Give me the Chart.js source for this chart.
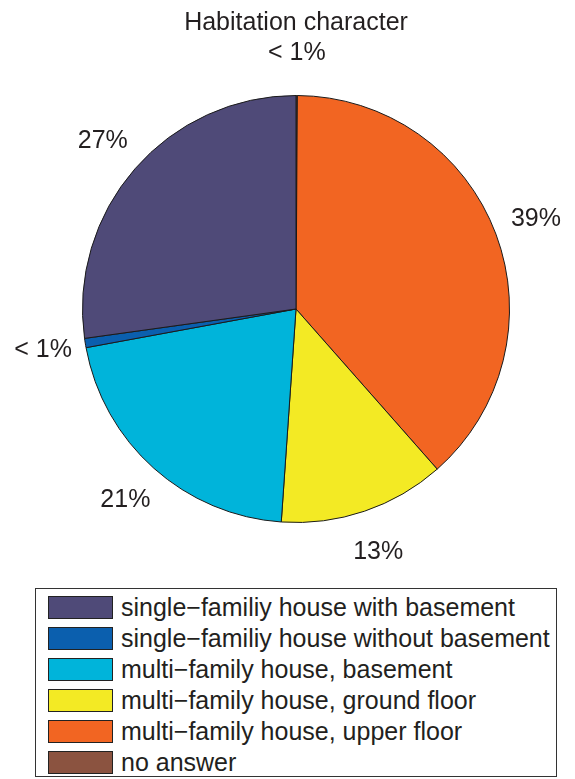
<!DOCTYPE html>
<html lang="en">
<head>
  <meta charset="UTF-8">
  <title>Habitation character</title>
  <script src="https://cdn.jsdelivr.net/npm/chart.js"></script>
  <style>
    body { margin: 0; background: #fff; font-family: "Liberation Sans", Arial, sans-serif; color: #231f20; }
    #wrap { position: relative; width: 575px; height: 779px; }
    #chartBox { position: absolute; left: 0; top: 0; width: 575px; height: 580px; }
    #legend {
      position: absolute; left: 35px; top: 588px; width: 522px; height: 189px;
      border: 1px solid #333; box-sizing: border-box; padding: 3px 0 0 12px;
    }
    .row { display: flex; align-items: center; height: 31px; font-size: 25px; white-space: nowrap; }
    .sw { width: 65px; height: 23px; border: 1px solid #222; margin-right: 8px; box-sizing: border-box; flex: none; }
  </style>
</head>
<body>
<div id="wrap">
  <div id="chartBox"><canvas id="pie"></canvas></div>
  <div id="legend"></div>
</div>

<script>
// data, in legend order (MATLAB draws counterclockwise from the top)
const categories = [
  'single\u2212familiy house with basement',
  'single\u2212familiy house without basement',
  'multi\u2212family house, basement',
  'multi\u2212family house, ground floor',
  'multi\u2212family house, upper floor',
  'no answer'
];
const shares = [27.2, 0.7, 21.0, 12.6, 38.4, 0.1];
const pctLabels = ['27%', '< 1%', '21%', '13%', '39%', '< 1%'];
const colors = ['#4f4a78', '#0b5fae', '#00b4da', '#f3ea24', '#f26522', '#8b5340'];

// chart.js goes clockwise, so feed it reversed
const rev = a => a.slice().reverse();

const labelPlugin = {
  id: 'pieText',
  afterDraw(chart) {
    const ctx = chart.ctx;
    ctx.save();
    ctx.fillStyle = '#231f20';
    ctx.textAlign = 'center';
    ctx.textBaseline = 'middle';
    ctx.font = '25px "Liberation Sans", Arial, sans-serif';
    ctx.fillText('Habitation character', 296, 23);
    const txt = rev(pctLabels);
    chart.getDatasetMeta(0).data.forEach((arc, i) => {
      const mid = (arc.startAngle + arc.endAngle) / 2;
      const r = arc.outerRadius * 1.2;
      ctx.fillText(txt[i], arc.x + Math.cos(mid) * r, arc.y + Math.sin(mid) * r);
    });
    ctx.restore();
  }
};

new Chart(document.getElementById('pie'), {
  type: 'pie',
  data: {
    labels: rev(categories),
    datasets: [{
      data: rev(shares),
      backgroundColor: rev(colors),
      borderColor: '#1a1a1a',
      borderWidth: 1,
      hoverOffset: 0
    }]
  },
  options: {
    responsive: true,
    maintainAspectRatio: false,
    animation: false,
    layout: { padding: { left: 82, right: 65, top: 95, bottom: 57 } },
    plugins: { legend: { display: false }, tooltip: { enabled: false } }
  },
  plugins: [labelPlugin]
});

// legend box
const leg = document.getElementById('legend');
categories.forEach((c, i) => {
  const row = document.createElement('div');
  row.className = 'row';
  row.innerHTML = `<div class="sw" style="background:${colors[i]}"></div><span>${c}</span>`;
  leg.appendChild(row);
});
</script>
</body>
</html>
